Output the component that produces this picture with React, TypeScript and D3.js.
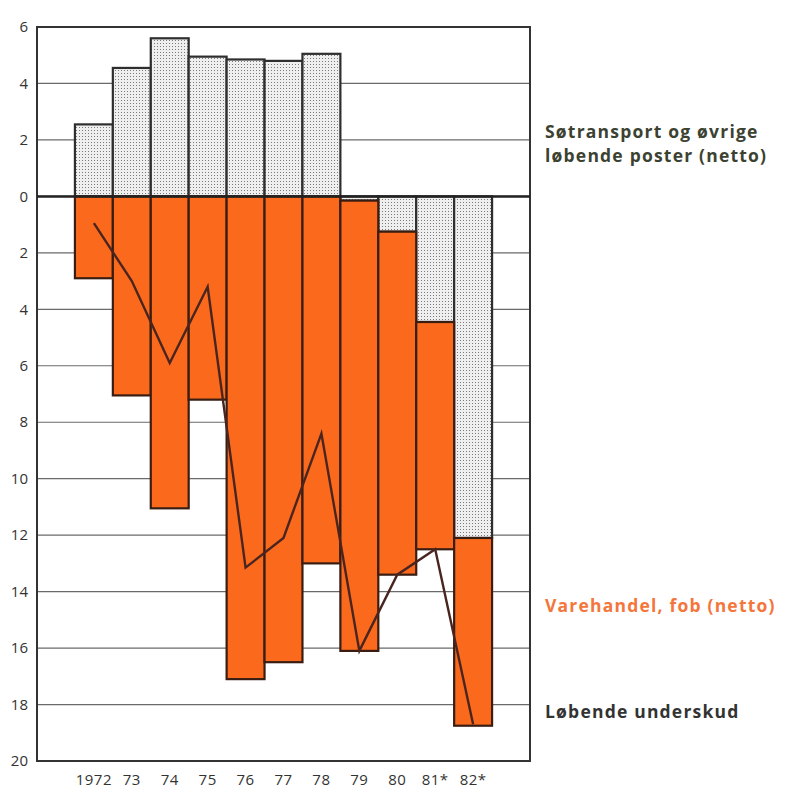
import * as d3 from "d3";

// years on the x axis
const years = ["1972", "73", "74", "75", "76", "77", "78", "79", "80", "81*", "82*"];

// Søtransport og øvrige løbende poster (netto), mrd. kr
const services = [2.55, 4.55, 5.6, 4.95, 4.85, 4.8, 5.05, -0.15, -1.25, -4.45, -12.1];

// Varehandel, fob (netto) - deficit, stacked below zero / below negative services
const trade = [2.9, 7.05, 11.05, 7.2, 17.1, 16.5, 13.0, 15.95, 12.15, 8.05, 6.65];

// Løbende underskud
const deficit = [0.95, 3.0, 5.9, 3.2, 13.15, 12.1, 8.4, 16.1, 13.4, 12.5, 18.7];

const yTicks = [6, 4, 2, 0, -2, -4, -6, -8, -10, -12, -14, -16, -18, -20];

const W = 785;
const H = 790;
const left = 37;
const right = 530;
const top = 27;
const bottom = 761;

const ORANGE = "#fb6a1c";
const FONT = "'Open Sans', Lato, sans-serif";

export default function App() {
  const x = d3
    .scaleBand<string>()
    .domain(years)
    .range([left, right])
    .paddingInner(0)
    .paddingOuter(1);

  const y = d3.scaleLinear().domain([-20, 6]).range([bottom, top]);

  const bw = x.bandwidth();

  const line = d3
    .line<number>()
    .x((_, i) => (x(years[i]) ?? 0) + bw / 2)
    .y((d) => y(-d));

  return (
    <svg
      width={W}
      height={H}
      style={{ position: "absolute", left: 0, top: 0, background: "#fff" }}
    >
      <defs>
        <pattern id="dots" width={3} height={3} patternUnits="userSpaceOnUse">
          <rect width={3} height={3} fill="#efefef" />
          <rect x={1} y={1} width={1} height={1} fill="#7a7a7a" />
        </pattern>
      </defs>

      {/* grid lines */}
      {yTicks.map((t) => (
        <line
          key={t}
          x1={left}
          x2={right}
          y1={y(t)}
          y2={y(t)}
          stroke="#6a6a6a"
          strokeWidth={1.2}
        />
      ))}

      {/* services bars */}
      {services.map((v, i) => (
        <rect
          key={"s" + i}
          x={x(years[i])}
          y={y(Math.max(0, v))}
          width={bw}
          height={Math.abs(y(v) - y(0))}
          fill="url(#dots)"
          stroke="#2e2e2e"
          strokeWidth={2.2}
        />
      ))}

      {/* trade bars */}
      {trade.map((v, i) => {
        const start = Math.min(0, services[i]);
        return (
          <rect
            key={"t" + i}
            x={x(years[i])}
            y={y(start)}
            width={bw}
            height={y(start - v) - y(start)}
            fill={ORANGE}
            stroke="#3a1d12"
            strokeWidth={2.2}
          />
        );
      })}

      {/* deficit line */}
      <path
        d={line(deficit) ?? ""}
        fill="none"
        stroke="#4a2520"
        strokeWidth={2.4}
        strokeLinejoin="miter"
      />

      {/* frame and zero line */}
      <rect
        x={left}
        y={top}
        width={right - left}
        height={bottom - top}
        fill="none"
        stroke="#333"
        strokeWidth={2}
      />
      <line x1={left} x2={right} y1={y(0)} y2={y(0)} stroke="#222" strokeWidth={2.5} />

      {/* y tick labels */}
      {yTicks.map((t) => (
        <text
          key={"l" + t}
          x={28}
          y={y(t)}
          dy="0.35em"
          textAnchor="end"
          fontFamily={FONT}
          fontSize={15}
          fill="#333"
        >
          {Math.abs(t)}
        </text>
      ))}

      {/* x labels */}
      {years.map((yr) => (
        <text
          key={yr}
          x={(x(yr) ?? 0) + bw / 2}
          y={785}
          textAnchor="middle"
          fontFamily={FONT}
          fontSize={15}
          letterSpacing={0.5}
          fill="#333"
        >
          {yr}
        </text>
      ))}

      {/* series labels */}
      <g fontFamily={FONT} fontWeight="bold" fontSize={17.5} letterSpacing={1.2}>
        <text x={545} y={138} fill="#3c4231">
          Søtransport og øvrige
        </text>
        <text x={545} y={162} fill="#3c4231">
          løbende poster (netto)
        </text>
        <text x={545} y={612} fill="#f4763a">
          Varehandel, fob (netto)
        </text>
        <text x={545} y={718} fill="#333">
          Løbende underskud
        </text>
      </g>
    </svg>
  );
}
